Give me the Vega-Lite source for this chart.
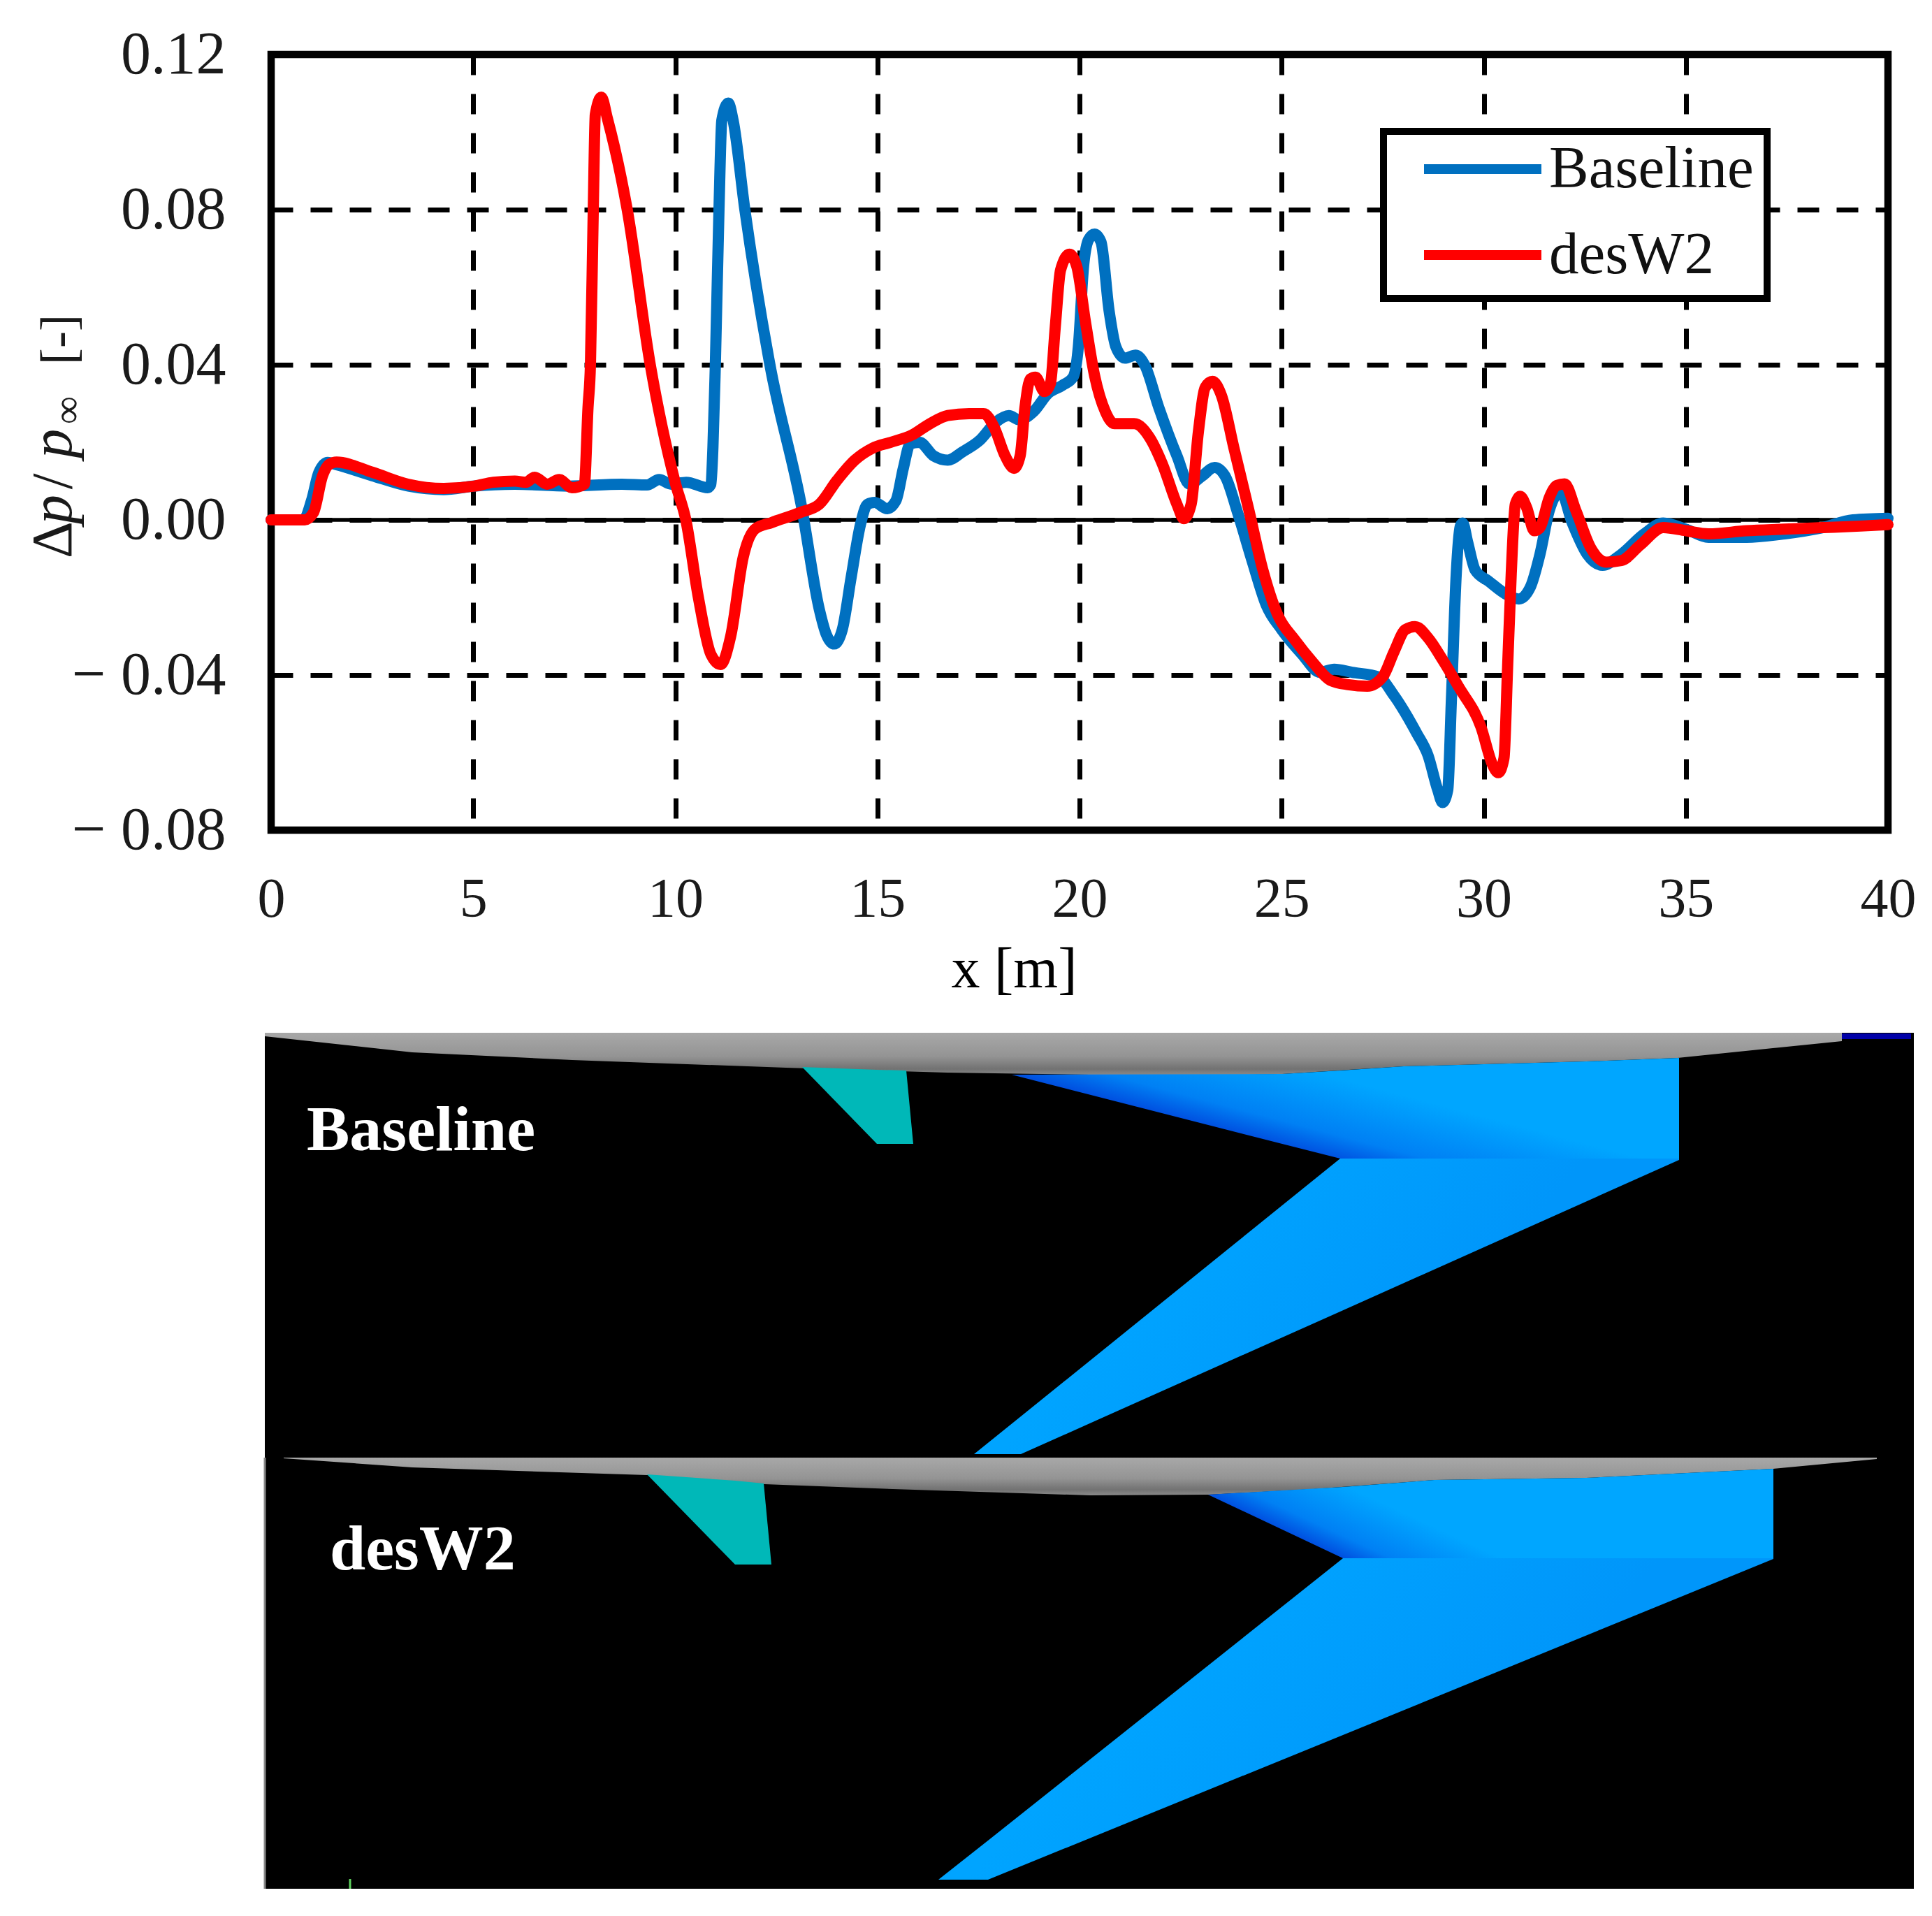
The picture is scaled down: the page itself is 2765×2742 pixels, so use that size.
{
  "$schema": "https://vega.github.io/schema/vega-lite/v6.json",
  "background": "white",
  "padding": {"left": 29, "top": 29, "right": 0, "bottom": 0},
  "bounds": "flush",
  "spacing": 290,
  "config": {"font": "Liberation Serif", "legend": {"strokeWidth": 10}},
  "datasets": {
    "curves": [
      {"series":"Baseline","x":0,"y":0},{"series":"Baseline","x":0.8,"y":0},{"series":"Baseline","x":1.0,"y":0.005},{"series":"Baseline","x":1.18,"y":0.0122},{"series":"Baseline","x":1.4,"y":0.0148},{"series":"Baseline","x":1.6,"y":0.0143},{"series":"Baseline","x":2.5,"y":0.0114},{"series":"Baseline","x":3.4,"y":0.0087},{"series":"Baseline","x":4.27,"y":0.0078},{"series":"Baseline","x":5,"y":0.0087},{"series":"Baseline","x":6.03,"y":0.0092},{"series":"Baseline","x":7.35,"y":0.0087},{"series":"Baseline","x":8.68,"y":0.0092},{"series":"Baseline","x":9.3,"y":0.009},{"series":"Baseline","x":9.6,"y":0.0104},{"series":"Baseline","x":9.9,"y":0.0092},{"series":"Baseline","x":10.27,"y":0.0097},{"series":"Baseline","x":10.8,"y":0.0083},{"series":"Baseline","x":10.88,"y":0.0092},{"series":"Baseline","x":10.93,"y":0.0186},{"series":"Baseline","x":10.99,"y":0.04},{"series":"Baseline","x":11.08,"y":0.08},{"series":"Baseline","x":11.15,"y":0.103},{"series":"Baseline","x":11.31,"y":0.1075},{"series":"Baseline","x":11.43,"y":0.103},{"series":"Baseline","x":11.72,"y":0.08},{"series":"Baseline","x":12.34,"y":0.04},{"series":"Baseline","x":13.13,"y":0.003},{"series":"Baseline","x":13.56,"y":-0.023},{"series":"Baseline","x":13.73,"y":-0.0294},{"series":"Baseline","x":13.93,"y":-0.032},{"series":"Baseline","x":14.13,"y":-0.0283},{"series":"Baseline","x":14.35,"y":-0.0148},{"series":"Baseline","x":14.58,"y":-0.0012},{"series":"Baseline","x":14.75,"y":0.004},{"series":"Baseline","x":14.93,"y":0.0045},{"series":"Baseline","x":15.24,"y":0.0029},{"series":"Baseline","x":15.46,"y":0.005},{"series":"Baseline","x":15.64,"y":0.0133},{"series":"Baseline","x":15.81,"y":0.0196},{"series":"Baseline","x":16.04,"y":0.02},{"series":"Baseline","x":16.39,"y":0.0165},{"series":"Baseline","x":16.74,"y":0.0154},{"series":"Baseline","x":17.1,"y":0.0175},{"series":"Baseline","x":17.54,"y":0.0206},{"series":"Baseline","x":17.94,"y":0.0253},{"series":"Baseline","x":18.25,"y":0.0269},{"series":"Baseline","x":18.51,"y":0.0258},{"series":"Baseline","x":18.87,"y":0.028},{"series":"Baseline","x":19.22,"y":0.0326},{"series":"Baseline","x":19.58,"y":0.0347},{"series":"Baseline","x":19.84,"y":0.0368},{"series":"Baseline","x":19.97,"y":0.0446},{"series":"Baseline","x":20.1,"y":0.0654},{"series":"Baseline","x":20.22,"y":0.0722},{"series":"Baseline","x":20.37,"y":0.0737},{"series":"Baseline","x":20.53,"y":0.0717},{"series":"Baseline","x":20.73,"y":0.054},{"series":"Baseline","x":20.9,"y":0.0446},{"series":"Baseline","x":21.12,"y":0.0417},{"series":"Baseline","x":21.39,"y":0.0425},{"series":"Baseline","x":21.61,"y":0.04},{"series":"Baseline","x":21.96,"y":0.029},{"series":"Baseline","x":22.41,"y":0.0165},{"series":"Baseline","x":22.72,"y":0.0092},{"series":"Baseline","x":23.03,"y":0.0113},{"series":"Baseline","x":23.34,"y":0.0135},{"series":"Baseline","x":23.6,"y":0.0113},{"series":"Baseline","x":23.91,"y":0.0019},{"series":"Baseline","x":24.27,"y":-0.0106},{"series":"Baseline","x":24.62,"y":-0.022},{"series":"Baseline","x":25,"y":-0.0283},{"series":"Baseline","x":25.5,"y":-0.0346},{"series":"Baseline","x":25.95,"y":-0.0393},{"series":"Baseline","x":26.3,"y":-0.0385},{"series":"Baseline","x":26.74,"y":-0.0393},{"series":"Baseline","x":27.4,"y":-0.0405},{"series":"Baseline","x":27.78,"y":-0.0453},{"series":"Baseline","x":28.34,"y":-0.055},{"series":"Baseline","x":28.62,"y":-0.0607},{"series":"Baseline","x":28.86,"y":-0.0696},{"series":"Baseline","x":28.98,"y":-0.0729},{"series":"Baseline","x":29.11,"y":-0.0696},{"series":"Baseline","x":29.2,"y":-0.0462},{"series":"Baseline","x":29.32,"y":-0.0138},{"series":"Baseline","x":29.42,"y":-0.0016},{"series":"Baseline","x":29.48,"y":-0.0008},{"series":"Baseline","x":29.6,"y":-0.0057},{"series":"Baseline","x":29.79,"y":-0.013},{"series":"Baseline","x":30.12,"y":-0.0158},{"series":"Baseline","x":30.59,"y":-0.0194},{"series":"Baseline","x":30.87,"y":-0.0204},{"series":"Baseline","x":31.15,"y":-0.0174},{"series":"Baseline","x":31.39,"y":-0.0089},{"series":"Baseline","x":31.62,"y":0.0024},{"series":"Baseline","x":31.9,"y":0.0073},{"series":"Baseline","x":32.19,"y":-0.0008},{"series":"Baseline","x":32.56,"y":-0.0089},{"series":"Baseline","x":32.94,"y":-0.0117},{"series":"Baseline","x":33.4,"y":-0.0089},{"series":"Baseline","x":33.97,"y":-0.0036},{"series":"Baseline","x":34.44,"y":-0.0008},{"series":"Baseline","x":35,"y":-0.0024},{"series":"Baseline","x":35.56,"y":-0.0045},{"series":"Baseline","x":36.5,"y":-0.0045},{"series":"Baseline","x":37.44,"y":-0.0036},{"series":"Baseline","x":38.38,"y":-0.002},{"series":"Baseline","x":39.13,"y":0},{"series":"Baseline","x":40,"y":0.0004},
      {"series":"desW2","x":0,"y":0},{"series":"desW2","x":0.83,"y":0},{"series":"desW2","x":1.05,"y":0.0019},{"series":"desW2","x":1.27,"y":0.0113},{"series":"desW2","x":1.45,"y":0.0144},{"series":"desW2","x":1.62,"y":0.0149},{"series":"desW2","x":2.5,"y":0.0123},{"series":"desW2","x":3.39,"y":0.0092},{"series":"desW2","x":4.27,"y":0.0081},{"series":"desW2","x":5.03,"y":0.0087},{"series":"desW2","x":5.5,"y":0.0097},{"series":"desW2","x":6.03,"y":0.01},{"series":"desW2","x":6.3,"y":0.0097},{"series":"desW2","x":6.52,"y":0.011},{"series":"desW2","x":6.83,"y":0.0092},{"series":"desW2","x":7.13,"y":0.0104},{"series":"desW2","x":7.44,"y":0.0083},{"series":"desW2","x":7.75,"y":0.0092},{"series":"desW2","x":7.84,"y":0.029},{"series":"desW2","x":7.9,"y":0.04},{"series":"desW2","x":7.97,"y":0.08},{"series":"desW2","x":8.02,"y":0.1045},{"series":"desW2","x":8.17,"y":0.109},{"series":"desW2","x":8.32,"y":0.1035},{"series":"desW2","x":8.81,"y":0.08},{"series":"desW2","x":9.38,"y":0.04},{"series":"desW2","x":10,"y":0.0095},{"series":"desW2","x":10.26,"y":0},{"series":"desW2","x":10.57,"y":-0.02},{"series":"desW2","x":10.88,"y":-0.0347},{"series":"desW2","x":11.12,"y":-0.0373},{"series":"desW2","x":11.37,"y":-0.03},{"series":"desW2","x":11.68,"y":-0.0096},{"series":"desW2","x":11.98,"y":-0.0023},{"series":"desW2","x":12.38,"y":-0.0007},{"series":"desW2","x":13.09,"y":0.0019},{"series":"desW2","x":13.56,"y":0.004},{"series":"desW2","x":14,"y":0.0102},{"series":"desW2","x":14.44,"y":0.0154},{"series":"desW2","x":14.88,"y":0.0185},{"series":"desW2","x":15.33,"y":0.02},{"series":"desW2","x":15.86,"y":0.0219},{"series":"desW2","x":16.3,"y":0.0248},{"series":"desW2","x":16.74,"y":0.0269},{"series":"desW2","x":17.27,"y":0.0274},{"series":"desW2","x":17.63,"y":0.0274},{"series":"desW2","x":17.89,"y":0.0238},{"series":"desW2","x":18.16,"y":0.0165},{"series":"desW2","x":18.38,"y":0.0133},{"series":"desW2","x":18.53,"y":0.0165},{"series":"desW2","x":18.65,"y":0.029},{"series":"desW2","x":18.78,"y":0.0363},{"series":"desW2","x":18.91,"y":0.0368},{"series":"desW2","x":19.13,"y":0.0331},{"series":"desW2","x":19.28,"y":0.0352},{"series":"desW2","x":19.4,"y":0.0498},{"series":"desW2","x":19.53,"y":0.0644},{"series":"desW2","x":19.75,"y":0.0685},{"series":"desW2","x":19.93,"y":0.0654},{"series":"desW2","x":20.15,"y":0.0508},{"series":"desW2","x":20.37,"y":0.0373},{"series":"desW2","x":20.64,"y":0.0279},{"series":"desW2","x":20.86,"y":0.0248},{"series":"desW2","x":21.35,"y":0.0248},{"series":"desW2","x":21.74,"y":0.0211},{"series":"desW2","x":22.05,"y":0.0144},{"series":"desW2","x":22.41,"y":0.004},{"series":"desW2","x":22.58,"y":0.0003},{"series":"desW2","x":22.76,"y":0.004},{"series":"desW2","x":22.94,"y":0.0227},{"series":"desW2","x":23.11,"y":0.0342},{"series":"desW2","x":23.29,"y":0.0357},{"series":"desW2","x":23.51,"y":0.0321},{"series":"desW2","x":23.82,"y":0.0185},{"series":"desW2","x":24.18,"y":0.0029},{"series":"desW2","x":24.53,"y":-0.0127},{"series":"desW2","x":24.89,"y":-0.0242},{"series":"desW2","x":25.33,"y":-0.031},{"series":"desW2","x":25.77,"y":-0.0367},{"series":"desW2","x":26.21,"y":-0.0414},{"series":"desW2","x":26.65,"y":-0.0425},{"series":"desW2","x":27.12,"y":-0.0429},{"series":"desW2","x":27.5,"y":-0.0405},{"series":"desW2","x":27.78,"y":-0.034},{"series":"desW2","x":28.06,"y":-0.0283},{"series":"desW2","x":28.3,"y":-0.0275},{"series":"desW2","x":28.62,"y":-0.0304},{"series":"desW2","x":29,"y":-0.0364},{"series":"desW2","x":29.37,"y":-0.0429},{"series":"desW2","x":29.93,"y":-0.0534},{"series":"desW2","x":30.22,"y":-0.0632},{"series":"desW2","x":30.36,"y":-0.0652},{"series":"desW2","x":30.5,"y":-0.0615},{"series":"desW2","x":30.59,"y":-0.038},{"series":"desW2","x":30.68,"y":-0.0138},{"series":"desW2","x":30.78,"y":0.004},{"series":"desW2","x":30.9,"y":0.0061},{"series":"desW2","x":31.06,"y":0.0032},{"series":"desW2","x":31.25,"y":-0.0028},{"series":"desW2","x":31.39,"y":-0.002},{"series":"desW2","x":31.62,"y":0.0057},{"series":"desW2","x":31.81,"y":0.0089},{"series":"desW2","x":32,"y":0.0093},{"series":"desW2","x":32.28,"y":0.0024},{"series":"desW2","x":32.65,"y":-0.0073},{"series":"desW2","x":33.03,"y":-0.0109},{"series":"desW2","x":33.4,"y":-0.0105},{"series":"desW2","x":33.87,"y":-0.0065},{"series":"desW2","x":34.44,"y":-0.002},{"series":"desW2","x":35,"y":-0.0028},{"series":"desW2","x":35.56,"y":-0.0036},{"series":"desW2","x":36.5,"y":-0.0028},{"series":"desW2","x":37.44,"y":-0.0024},{"series":"desW2","x":38.38,"y":-0.002},{"series":"desW2","x":39.32,"y":-0.0016},{"series":"desW2","x":40,"y":-0.0012}
    ],
    "geometry": [
      {"part":"body","panel":"Baseline","x":379,"y":1477,"y2":1482},{"part":"body","panel":"Baseline","x":590,"y":1477,"y2":1505},{"part":"body","panel":"Baseline","x":819,"y":1477,"y2":1516},{"part":"body","panel":"Baseline","x":1125,"y":1477,"y2":1527},{"part":"body","panel":"Baseline","x":1355,"y":1477,"y2":1534},{"part":"body","panel":"Baseline","x":1560,"y":1477,"y2":1537},{"part":"body","panel":"Baseline","x":1748,"y":1477,"y2":1538},{"part":"body","panel":"Baseline","x":1835,"y":1477,"y2":1536},{"part":"body","panel":"Baseline","x":2009,"y":1477,"y2":1525},{"part":"body","panel":"Baseline","x":2270,"y":1477,"y2":1518},{"part":"body","panel":"Baseline","x":2401,"y":1477,"y2":1513},{"part":"body","panel":"Baseline","x":2636,"y":1477,"y2":1489},
      {"part":"body","panel":"desW2","x":406,"y":2085,"y2":2086},{"part":"body","panel":"desW2","x":590,"y":2085,"y2":2099},{"part":"body","panel":"desW2","x":926,"y":2085,"y2":2110},{"part":"body","panel":"desW2","x":1094,"y":2085,"y2":2123},{"part":"body","panel":"desW2","x":1278,"y":2085,"y2":2130},{"part":"body","panel":"desW2","x":1560,"y":2085,"y2":2139},{"part":"body","panel":"desW2","x":1729,"y":2085,"y2":2138},{"part":"body","panel":"desW2","x":1879,"y":2085,"y2":2130},{"part":"body","panel":"desW2","x":2053,"y":2085,"y2":2117},{"part":"body","panel":"desW2","x":2270,"y":2085,"y2":2114},{"part":"body","panel":"desW2","x":2538,"y":2085,"y2":2101},{"part":"body","panel":"desW2","x":2686,"y":2085,"y2":2087},
      {"part":"tail","panel":"Baseline","x":1148,"y":1526,"y2":1526},{"part":"tail","panel":"Baseline","x":1255,"y":1530,"y2":1636},{"part":"tail","panel":"Baseline","x":1297,"y":1531,"y2":1636},{"part":"tail","panel":"Baseline","x":1307,"y":1636,"y2":1636},
      {"part":"tail","panel":"desW2","x":926,"y":2109,"y2":2109},{"part":"tail","panel":"desW2","x":1052,"y":2118,"y2":2238},{"part":"tail","panel":"desW2","x":1093,"y":2122,"y2":2238},{"part":"tail","panel":"desW2","x":1104,"y":2238,"y2":2238},
      {"part":"strake","panel":"Baseline","x":1448,"y":1537,"y2":1537},{"part":"strake","panel":"Baseline","x":1835,"y":1536,"y2":1636},{"part":"strake","panel":"Baseline","x":1918,"y":1531,"y2":1657},{"part":"strake","panel":"Baseline","x":2009,"y":1525,"y2":1657},{"part":"strake","panel":"Baseline","x":2270,"y":1518,"y2":1657},{"part":"strake","panel":"Baseline","x":2403,"y":1513,"y2":1657},
      {"part":"strake","panel":"desW2","x":1729,"y":2138,"y2":2138},{"part":"strake","panel":"desW2","x":1922,"y":2127,"y2":2229},{"part":"strake","panel":"desW2","x":2053,"y":2117,"y2":2229},{"part":"strake","panel":"desW2","x":2270,"y":2114,"y2":2229},{"part":"strake","panel":"desW2","x":2538,"y":2101,"y2":2229},
      {"part":"wing","panel":"Baseline","x":1394,"y":2080,"y2":2080},{"part":"wing","panel":"Baseline","x":1461,"y":2026,"y2":2080},{"part":"wing","panel":"Baseline","x":1918,"y":1657,"y2":1876},{"part":"wing","panel":"Baseline","x":2403,"y":1657,"y2":1659},
      {"part":"wing","panel":"desW2","x":1343,"y":2689,"y2":2689},{"part":"wing","panel":"desW2","x":1414,"y":2633,"y2":2689},{"part":"wing","panel":"desW2","x":1922,"y":2229,"y2":2482},{"part":"wing","panel":"desW2","x":2538,"y":2229,"y2":2230}
    ]
  },
  "vconcat": [
    {
      "width": 2314,
      "height": 1110,
      "view": {"stroke": "black", "strokeWidth": 10.5, "fill": "white"},
      "encoding": {
        "x": {
          "field": "x", "type": "quantitative",
          "scale": {"domain": [0, 40], "nice": false},
          "axis": {
            "values": [0, 5, 10, 15, 20, 25, 30, 35, 40], "format": "d",
            "title": "x [m]", "titleFont": "Liberation Serif", "titleFontSize": 82, "titleFontWeight": "normal", "titleColor": "black",
            "titleX": 1063, "titleY": 224, "titleAlign": "center", "titleBaseline": "alphabetic",
            "labelFont": "Liberation Serif", "labelFontSize": 80, "labelColor": "#1a1a1a", "labelPadding": 60, "labelFlush": false, "labelOverlap": false,
            "ticks": false, "domain": false,
            "grid": true, "gridColor": "black", "gridWidth": 7, "gridDash": [29, 27], "gridOpacity": 1
          }
        },
        "y": {
          "field": "y", "type": "quantitative",
          "scale": {"domain": [-0.08, 0.12], "nice": false},
          "axis": {
            "values": [-0.08, -0.04, 0, 0.04, 0.08, 0.12],
            "title": null,
            "labelExpr": "datum.value < -0.001 ? '− ' + format(-datum.value, '.2f') : format(abs(datum.value), '.2f')",
            "labelFont": "Liberation Serif", "labelFontSize": 86, "labelColor": "#1a1a1a", "labelPadding": 65, "labelLimit": 400, "labelFlush": false, "labelOverlap": false,
            "ticks": false, "domain": false,
            "grid": true, "gridColor": "black", "gridWidth": 7, "gridDash": [31, 25], "gridOpacity": 1
          }
        }
      },
      "layer": [
        {
          "data": {"values": [{"x": 0, "x2": 40, "y": 0}]},
          "mark": {"type": "rule", "color": "black", "strokeWidth": 5.5},
          "encoding": {"x2": {"field": "x2"}}
        },
        {
          "data": {"name": "curves"},
          "mark": {"type": "line", "interpolate": "monotone", "strokeWidth": 16, "strokeCap": "round", "strokeJoin": "round", "clip": false},
          "encoding": {
            "color": {
              "field": "series", "type": "nominal",
              "scale": {"domain": ["Baseline", "desW2"], "range": ["#0070C0", "#FF0000"]},
              "legend": {
                "orient": "none", "legendX": 1592, "legendY": 110, "title": null,
                "fillColor": "white", "strokeColor": "black", "padding": 19,
                "symbolType": "stroke", "symbolSize": 28224, "symbolStrokeWidth": 14, "symbolOffset": 32,
                "clipHeight": 70, "rowPadding": 38,
                "labelFont": "Liberation Serif", "labelFontSize": 85, "labelColor": "#111", "labelOffset": 4, "labelLimit": 400
              }
            }
          }
        },
        {
          "data": {"values": [{"t": "Δ", "x": -4.944, "y": -0.0099}, {"t": "/", "x": -4.944, "y": 0.0079}]},
          "mark": {"type": "text", "font": "Liberation Serif", "fontSize": 82, "angle": 270, "align": "left", "baseline": "alphabetic", "color": "#1a1a1a"},
          "encoding": {"text": {"field": "t"}}
        },
        {
          "data": {"values": [{"t": "p", "x": -4.944, "y": -0.0011}, {"t": "p", "x": -4.944, "y": 0.0159}]},
          "mark": {"type": "text", "font": "Liberation Serif", "fontStyle": "italic", "fontSize": 84, "angle": 270, "align": "left", "baseline": "alphabetic", "color": "#1a1a1a"},
          "encoding": {"text": {"field": "t"}}
        },
        {
          "data": {"values": [{"t": "∞", "x": -4.72, "y": 0.0247}]},
          "mark": {"type": "text", "font": "Liberation Serif", "fontSize": 56, "angle": 270, "align": "left", "baseline": "alphabetic", "color": "#1a1a1a"},
          "encoding": {"text": {"field": "t"}}
        },
        {
          "data": {"values": [{"t": "[-]", "x": -4.857, "y": 0.04}]},
          "mark": {"type": "text", "font": "Liberation Serif", "fontSize": 72, "angle": 270, "align": "left", "baseline": "alphabetic", "color": "#1a1a1a"},
          "encoding": {"text": {"field": "t"}}
        }
      ]
    },
    {
      "width": 2351,
      "height": 1225,
      "view": {"stroke": null},
      "encoding": {
        "x": {"field": "x", "type": "quantitative", "scale": {"domain": [388, 2739], "nice": false, "zero": false}, "axis": null},
        "y": {"field": "y", "type": "quantitative", "scale": {"domain": [2702, 1477], "nice": false, "zero": false}, "axis": null}
      },
      "layer": [
        {
          "data": {"values": [{"x": 379, "x2": 2739, "y": 1477, "y2": 2702}]},
          "mark": {"type": "rect", "color": "black"},
          "encoding": {"x2": {"field": "x2"}, "y2": {"field": "y2"}}
        },
        {
          "data": {"values": [{"x": 379, "y": 2085, "y2": 2702}]},
          "mark": {"type": "rule", "color": "#888888", "strokeWidth": 3},
          "encoding": {"y2": {"field": "y2"}}
        },
        {
          "data": {"values": [{"x": 501, "y": 2688, "y2": 2702}]},
          "mark": {"type": "rule", "color": "#5fd35f", "strokeWidth": 3},
          "encoding": {"y2": {"field": "y2"}}
        },
        {
          "data": {"values": [{"x": 2383, "x2": 2636, "y": 1478, "y2": 1489}]},
          "mark": {"type": "rect", "color": "#4a3fd6"},
          "encoding": {"x2": {"field": "x2"}, "y2": {"field": "y2"}}
        },
        {
          "data": {"values": [{"x": 2636, "x2": 2735, "y": 1478, "y2": 1486}]},
          "mark": {"type": "rect", "color": "#0000a8"},
          "encoding": {"x2": {"field": "x2"}, "y2": {"field": "y2"}}
        },
        {
          "data": {"name": "geometry"},
          "transform": [{"filter": "datum.part == 'body'"}],
          "mark": {
            "type": "area", "interpolate": "linear",
            "color": {"gradient": "linear", "x1": 0, "y1": 0, "x2": 0, "y2": 1, "stops": [
              {"offset": 0, "color": "#a8a8a8"}, {"offset": 0.55, "color": "#949494"}, {"offset": 0.85, "color": "#727272"}, {"offset": 1, "color": "#8a8a8a"}
            ]}
          },
          "encoding": {"y2": {"field": "y2"}, "detail": {"field": "panel"}}
        },
        {
          "data": {"name": "geometry"},
          "transform": [{"filter": "datum.part == 'tail'"}],
          "mark": {"type": "area", "interpolate": "linear", "color": "#00b8b8"},
          "encoding": {"y2": {"field": "y2"}, "detail": {"field": "panel"}}
        },
        {
          "data": {"name": "geometry"},
          "transform": [{"filter": "datum.part == 'strake' && datum.panel == 'Baseline'"}],
          "mark": {
            "type": "area", "interpolate": "linear",
            "color": {"gradient": "linear", "x1": 0.245, "y1": 0.585, "x2": 0.595, "y2": 0.385, "stops": [
              {"offset": 0, "color": "#0050e0"}, {"offset": 0.3, "color": "#0080f4"}, {"offset": 1, "color": "#00a6ff"}
            ]}
          },
          "encoding": {"y2": {"field": "y2"}}
        },
        {
          "data": {"name": "geometry"},
          "transform": [{"filter": "datum.part == 'strake' && datum.panel == 'desW2'"}],
          "mark": {
            "type": "area", "interpolate": "linear",
            "color": {"gradient": "linear", "x1": 0.12, "y1": 0.645, "x2": 0.37, "y2": 0.56, "stops": [
              {"offset": 0, "color": "#0050e0"}, {"offset": 0.3, "color": "#0080f4"}, {"offset": 1, "color": "#00a6ff"}
            ]}
          },
          "encoding": {"y2": {"field": "y2"}}
        },
        {
          "data": {"name": "geometry"},
          "transform": [{"filter": "datum.part == 'wing'"}],
          "mark": {
            "type": "area", "interpolate": "linear",
            "color": {"gradient": "linear", "x1": 0.3, "y1": 0.2, "x2": 0.75, "y2": 0.35, "stops": [
              {"offset": 0, "color": "#00a4ff"}, {"offset": 1, "color": "#0096fa"}
            ]}
          },
          "encoding": {"y2": {"field": "y2"}, "detail": {"field": "panel"}}
        },
        {
          "data": {"values": [{"panel": "Baseline", "x": 439, "y": 1645}, {"panel": "desW2", "x": 472, "y": 2245}]},
          "mark": {"type": "text", "font": "Liberation Serif", "fontWeight": "bold", "fontSize": 92, "align": "left", "baseline": "alphabetic", "color": "white"},
          "encoding": {"text": {"field": "panel"}}
        }
      ]
    }
  ]
}
